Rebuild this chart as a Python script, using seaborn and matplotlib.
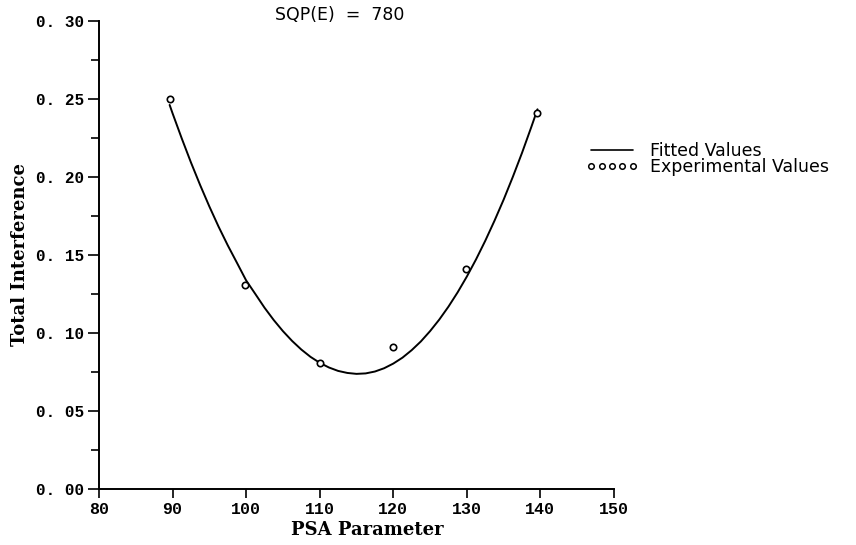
import matplotlib
matplotlib.use("Agg")
import matplotlib.pyplot as plt
from matplotlib.lines import Line2D
import seaborn as sns
import pandas as pd

# Experimental values
exp_x = [89.6, 99.8, 110.0, 119.9, 129.9, 139.6]
exp_y = [0.250, 0.131, 0.081, 0.091, 0.141, 0.241]

# Fitted curve
fit_x = [89.6, 90.0, 91.25, 92.5, 93.75, 95.0, 96.25, 97.5, 98.75, 100.0,
         101.25, 102.5, 103.75, 105.0, 106.25, 107.5, 108.75, 110.0, 111.25, 112.5,
         113.75, 115.0, 116.25, 117.5, 118.75, 120.0, 121.25, 122.5, 123.75, 125.0,
         126.25, 127.5, 128.75, 130.0, 131.25, 132.5, 133.75, 135.0, 136.25, 137.5,
         138.75, 139.6]
fit_y = [0.2462, 0.2408, 0.2247, 0.2093, 0.1948, 0.1811, 0.1682, 0.1562, 0.1450, 0.1337,
         0.1250, 0.1162, 0.1083, 0.1012, 0.0949, 0.0894, 0.0847, 0.0809, 0.0779, 0.0757,
         0.0744, 0.0738, 0.0741, 0.0753, 0.0774, 0.0804, 0.0842, 0.0890, 0.0946, 0.1012,
         0.1086, 0.1169, 0.1261, 0.1362, 0.1472, 0.1591, 0.1719, 0.1855, 0.2001, 0.2155,
         0.2319, 0.2434]

x_ticks = [80, 90, 100, 110, 120, 130, 140, 150]
x_tick_labels = ["80", "90", "100", "110", "120", "130", "140", "150"]
y_ticks = [0.00, 0.05, 0.10, 0.15, 0.20, 0.25, 0.30]
y_tick_labels = ["0. 00", "0. 05", "0. 10", "0. 15", "0. 20", "0. 25", "0. 30"]

title_text = "SQP(E)  =  780"
x_label = "PSA Parameter"
y_label = "Total Interference"
legend_labels = ["Fitted Values", "Experimental Values"]

sns.set_style("ticks")
plt.rcParams['font.family'] = ['DejaVu Sans']
plt.rcParams.update({"text.color": "black", "axes.labelcolor": "black",
                     "xtick.color": "black", "ytick.color": "black",
                     "axes.edgecolor": "black"})

fig = plt.figure(figsize=(8.56, 5.45), dpi=100)
ax = fig.add_axes([99/856, 1-489/545, (614-99)/856, (489-21)/545])

fit_df = pd.DataFrame({"x": fit_x, "y": fit_y})
exp_df = pd.DataFrame({"x": exp_x, "y": exp_y})

sns.lineplot(data=fit_df, x="x", y="y", ax=ax, color="black", linewidth=1.4,
             sort=False, estimator=None)
ax.plot(exp_df["x"], exp_df["y"], linestyle="none", marker="o", markersize=4.6,
        markerfacecolor="white", markeredgecolor="black", markeredgewidth=1.2, zorder=3)

ax.set_xlim(80, 150)
ax.set_ylim(0.0, 0.30)
ax.set_xticks(x_ticks)
ax.set_xticklabels(x_tick_labels, family="Liberation Mono", fontweight="bold", fontsize=12)
ax.set_yticks(y_ticks)
ax.set_yticklabels(y_tick_labels, family="Liberation Mono", fontweight="bold", fontsize=11.5)
ax.set_yticks([0.025, 0.075, 0.125, 0.175, 0.225, 0.275], minor=True)
ax.tick_params(axis="y", which="major", length=8, width=1.2, direction="out", pad=3)
ax.tick_params(axis="y", which="minor", length=5.5, width=1.2, direction="out")
ax.tick_params(axis="x", which="major", length=6.5, width=1.2, direction="out", pad=3)

for s in ["top", "right"]:
    ax.spines[s].set_visible(False)
for s in ["left", "bottom"]:
    ax.spines[s].set_linewidth(1.4)

ax.set_xlabel(x_label, family="DejaVu Serif", fontweight="bold", fontsize=13)
ax.set_ylabel(y_label, family="DejaVu Serif", fontweight="bold", fontsize=13, labelpad=5)
ax.xaxis.set_label_coords((367-99)/515, -(521-489)/468)

fig.text(340/856, 1-15/545, title_text, ha="center", va="center", fontsize=12.5)

handles = [Line2D([], [], color="black", linewidth=1.2),
           Line2D([], [], linestyle="none", marker="o", markersize=4,
                  markerfacecolor="white", markeredgecolor="black", markeredgewidth=1.1)]
leg = ax.legend(handles, legend_labels, loc="upper left",
                bbox_to_anchor=(586/856, 1-142/545), bbox_transform=fig.transFigure,
                frameon=False, fontsize=12.5, handlelength=3.0, handletextpad=0.7,
                labelspacing=-0.1, borderpad=0, borderaxespad=0, numpoints=5)

fig.savefig("out.png", dpi=100)
